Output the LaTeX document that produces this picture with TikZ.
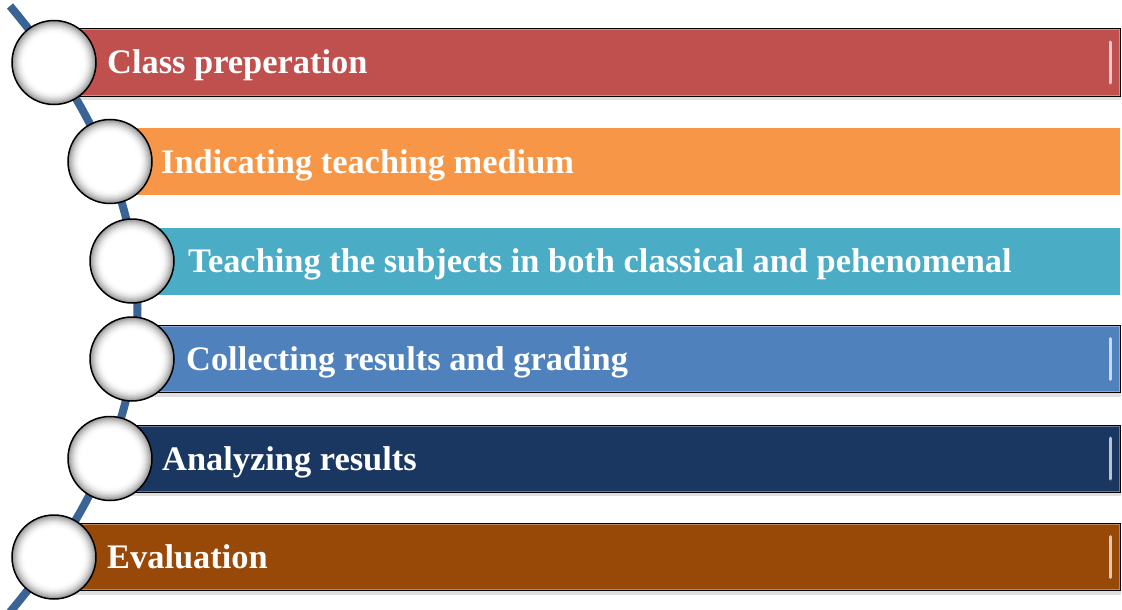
\documentclass[tikz,border=0pt]{standalone}
\usepackage{fontspec}
\setmainfont{Liberation Serif}
\usetikzlibrary{shadows}
\definecolor{cRed}{HTML}{C0504D}
\definecolor{cOrange}{HTML}{F79646}
\definecolor{cTeal}{HTML}{4BACC6}
\definecolor{cBlue}{HTML}{4F81BD}
\definecolor{cNavy}{HTML}{193760}
\definecolor{cBrown}{HTML}{984807}
\definecolor{cLine}{RGB}{58,100,150}
\tikzset{
  flatbar/.style={rectangle, inner sep=0pt, minimum height=67pt, anchor=west},
  bevelbar/.style={flatbar, draw=black, line width=1pt,
    drop shadow={shadow xshift=0pt, shadow yshift=-4pt, opacity=.25},
    path picture={
      \draw[white, opacity=.35, line width=3pt] (path picture bounding box.north west) rectangle (path picture bounding box.south east);
      \draw[white, opacity=.7, line width=3pt, line cap=round]
        ([xshift=-10pt,yshift=-13pt]path picture bounding box.north east) -- ([xshift=-10pt,yshift=13pt]path picture bounding box.south east);
    }},
  ball/.style={circle, inner sep=0pt, minimum size=84pt, draw=black, line width=1.5pt, fill=white,
    path picture={
      \foreach \i in {0,...,14}{
        \pgfmathsetmacro\g{50*(1-\i/14)^2}
        \fill[black!\g] (path picture bounding box.center) circle[radius={(43-\i)*1pt}];
      }
    }},
  txt/.style={anchor=base west, text=white, font=\bfseries\fontsize{34.4}{40}\selectfont, inner sep=0pt},
  trackline/.style={draw=cLine, line width=8pt}
}
\begin{document}
\begin{tikzpicture}[x=1pt,y=-1pt]
\useasboundingbox (0,0) rectangle (1122,610);
\clip (0,0) rectangle (1122,610);
% track
\coordinate (top) at (10,6);
\coordinate (bot) at (10,612);
\draw[trackline] (top) .. controls (180,208) and (180,410) .. (bot);
% bars
\node[bevelbar, fill=cRed, minimum width=1066pt] (b1) at (54,62.5) {};
\node[flatbar, fill=cOrange, minimum width=1010pt] (b2) at (110,161.5) {};
\node[flatbar, fill=cTeal, minimum width=988pt] (b3) at (132,261) {};
\node[bevelbar, fill=cBlue, minimum width=988pt] (b4) at (132,359) {};
\node[bevelbar, fill=cNavy, minimum width=1010pt] (b5) at (110,458.5) {};
\node[bevelbar, fill=cBrown, minimum width=1066pt] (b6) at (54,557) {};
% circles
\node[ball] (c1) at (54,62.5) {};
\node[ball] (c2) at (110,161.5) {};
\node[ball] (c3) at (132,261) {};
\node[ball] (c4) at (132,359) {};
\node[ball] (c5) at (110,458.5) {};
\node[ball] (c6) at (54,557) {};
% texts
\node[txt] (t1) at (107,74) {Class preperation};
\node[txt] (t2) at (161,173) {Indicating teaching medium};
\node[txt] (t3) at (188,272.5) {Teaching the subjects in both classical and pehenomenal};
\node[txt] (t4) at (186,370.5) {Collecting results and grading};
\node[txt] (t5) at (162,470) {Analyzing results};
\node[txt] (t6) at (107,568.5) {Evaluation};
\end{tikzpicture}
\end{document}
